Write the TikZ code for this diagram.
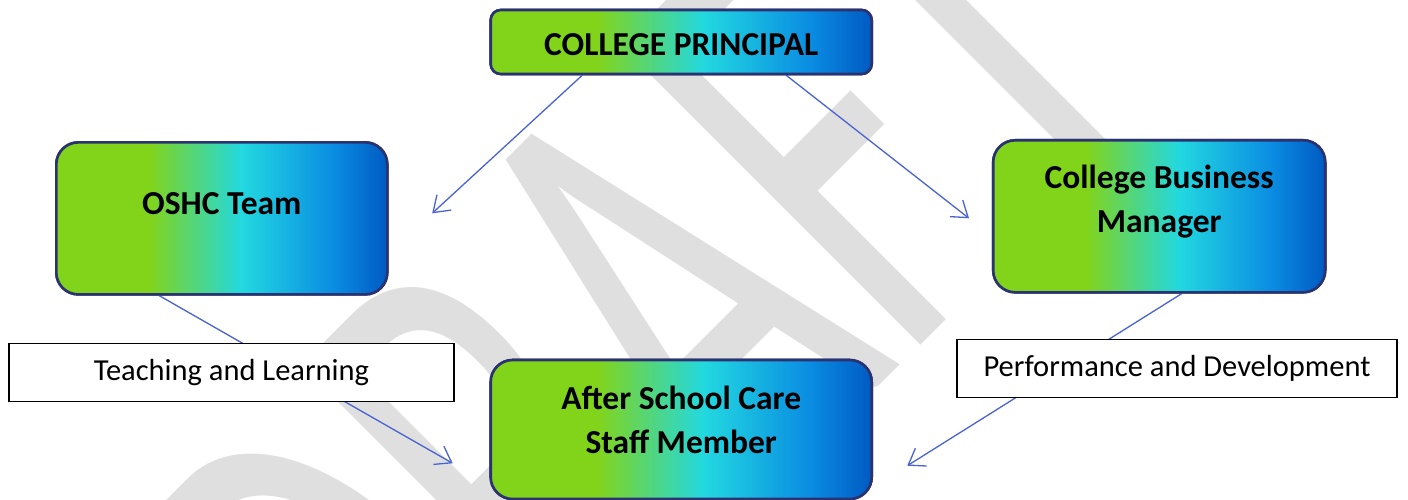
\documentclass[tikz,border=0pt]{standalone}
\usepackage{fontspec}
\setmainfont{Carlito}
\usepackage{graphicx}
\usetikzlibrary{arrows.meta}

\definecolor{boxlime}{HTML}{82D41A}
\definecolor{boxaqua}{HTML}{22D8E0}
\definecolor{boxsky}{HTML}{0A8CE2}
\definecolor{boxnavy}{HTML}{005AC2}
\definecolor{boxedge}{HTML}{2A3270}
\definecolor{linkblue}{HTML}{4A63D3}
\definecolor{draftgrey}{HTML}{DFDFDF}

\pgfdeclarehorizontalshading{teamfade}{100bp}{%
    color(0bp)=(boxlime); color(25bp)=(boxlime); color(39bp)=(boxlime);
    color(53bp)=(boxaqua); color(67bp)=(boxsky); color(75bp)=(boxnavy);
    color(100bp)=(boxnavy)}

\begin{document}
\begin{tikzpicture}[
        x = 1pt, y = -1pt,
        > = {Straight Barb[length=15pt, width=21pt]},
        teambox/.style = {%
            draw = boxedge, line width = 2.6pt, rounded corners = 22pt,
            shading = teamfade, inner sep = 0pt
        },
        teamtext/.style = {%
            font = \bfseries\fontsize{33.5}{44}\selectfont, align = center
        },
        notebox/.style = {%
            draw = black, line width = 1.1pt, fill = white, inner sep = 0pt,
            font = \fontsize{30.5}{36}\selectfont
        },
        link/.style = {draw = linkblue, line width = 1.3pt, ->}
    ]

        % Page and watermark.
        \useasboundingbox (0, 0) rectangle (1408, 500);
        \clip (0, 0) rectangle (1408, 500);
        \fill[white] (0, 0) rectangle (1408, 500);
        \node[rotate = 45, anchor = base west, inner sep = 0pt, text = draftgrey,
              font = \fontsize{405}{405}\selectfont] (draft) at (735.7, 530)
              {\scalebox{1}[1.63]{\llap{DR}AFT}};

        % Free ends of the arrows.
        \coordinate (T1) at (432.2, 213.3);
        \coordinate (T2) at (969.0, 218.3);
        \coordinate (T3) at (452.7, 463.3);
        \coordinate (T4) at (907.3, 465.7);

        % Boxes (placed first so the arrows can start on them).
        \node[teambox, minimum width = 381, minimum height = 64,
              rounded corners = 10pt] (principal) at (681.2, 42.0) {};
        \node[teambox, minimum width = 331, minimum height = 152] (oshc) at (221.8, 218.4) {};
        \node[teambox, minimum width = 332, minimum height = 152] (cbm) at (1159.2, 216.3) {};
        \node[teambox, minimum width = 381, minimum height = 139] (staff) at (681.2, 429.5) {};

        % Arrows.
        \draw[link] ([xshift = -99pt]principal.south) -- (T1);
        \draw[link] ([xshift = 105pt]principal.south) -- (T2);
        \draw[link] ([xshift = -62.5pt]oshc.south) -- (T3);
        \draw[link] ([xshift = 22.5pt]cbm.south) -- (T4);

        % Boxes again on top of the arrow starts.
        \node[teambox, minimum width = 381, minimum height = 64,
              rounded corners = 10pt] at (principal) {};
        \node[teambox, minimum width = 331, minimum height = 152] at (oshc) {};
        \node[teambox, minimum width = 332, minimum height = 152] at (cbm) {};
        \node[teambox, minimum width = 381, minimum height = 139] at (staff) {};

        % Box texts.
        \node[teamtext] (principal-text) at ([yshift = -3pt]principal.center) {COLLEGE PRINCIPAL};
        \node[teamtext] (oshc-text) at ([yshift = 15pt]oshc.center) {OSHC Team};
        \node[teamtext] (cbm-text) at ([yshift = 15pt]cbm.center) {College Business\\Manager};
        \node[teamtext] (staff-text) at ([yshift = 10pt]staff.center) {After School Care\\Staff Member};

        % Labels on the lower arrows.
        \node[notebox, minimum width = 445, minimum height = 58] (teach) at (231.5, 372.5)
              {Teaching and Learning};
        \node[notebox, minimum width = 440, minimum height = 58] (perf) at (1177.0, 368.3)
              {Performance and Development};
    \end{tikzpicture}
\end{document}
